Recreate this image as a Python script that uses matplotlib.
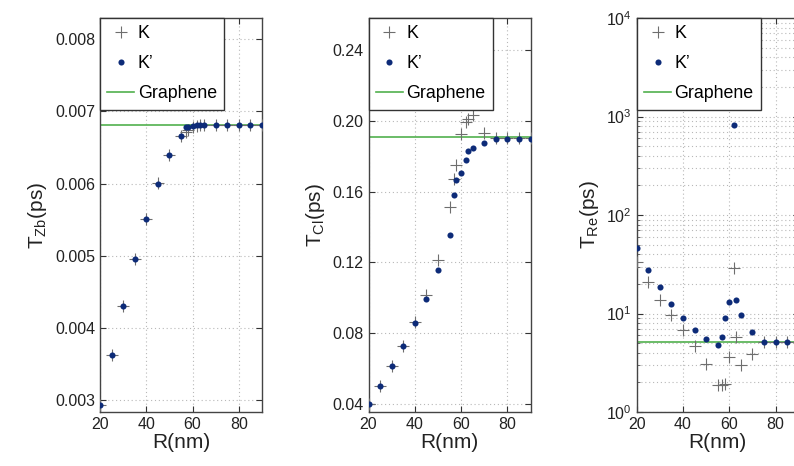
import matplotlib
matplotlib.use("Agg")
import matplotlib.pyplot as plt
from matplotlib.ticker import LogLocator, NullFormatter

plt.rcParams['font.family'] = ['Liberation Sans', 'DejaVu Sans']
plt.rcParams['mathtext.fontset'] = 'custom'
plt.rcParams['mathtext.rm'] = 'Liberation Sans'
plt.rcParams['mathtext.it'] = 'Liberation Sans:italic'
plt.rcParams['mathtext.bf'] = 'Liberation Sans:bold'

# ---------------- data ----------------
R = [20, 25, 30, 35, 40, 45, 50, 55, 57, 58, 60, 62, 63, 65, 70, 75, 80, 85, 90]

zb_K = [0.00293, 0.00363, 0.00431, 0.00496, 0.00551, 0.00601, 0.00639, 0.00666,
        0.00671, 0.00674, 0.00678, 0.00680, 0.00681, 0.00681, 0.00681, 0.00681,
        0.00681, 0.00681, 0.00681]
zb_Kp = [0.00293, 0.00363, 0.00431, 0.00496, 0.00551, 0.00600, 0.00639, 0.00666,
         0.00678, 0.00679, 0.00680, 0.00681, 0.00681, 0.00681, 0.00681, 0.00681,
         0.00681, 0.00681, 0.00681]
zb_graphene = 0.00681

cl_K = [0.040, 0.0503, 0.0617, 0.0730, 0.0866, 0.1016, 0.1214, 0.1515, 0.1670,
        0.1750, 0.1924, 0.1990, 0.2010, 0.2033, 0.1933, 0.1905, 0.1900, 0.1900, 0.1900]
cl_Kp = [0.040, 0.0503, 0.0617, 0.0730, 0.0856, 0.0993, 0.1157, 0.1355, 0.1580,
         0.1666, 0.1707, 0.1777, 0.1830, 0.1848, 0.1875, 0.1897, 0.1898, 0.1898, 0.1898]
cl_graphene = 0.1909

re_K = [33.6, 20.9, 13.8, 9.6, 6.8, 4.68, 3.05, 1.89, 1.89, 1.92, 3.62, 28.8,
        5.77, 3.0, 3.91, 5.14, 5.14, 5.14, 5.14]
re_Kp = [46.5, 27.7, 18.6, 12.6, 9.06, 6.85, 5.55, 4.82, 5.77, 9.06, 13.1, 820,
         13.8, 9.57, 6.49, 5.14, 5.14, 5.14, 5.14]
re_graphene = 5.15

xticks = [20, 40, 60, 80]
zb_yticks = [0.003, 0.004, 0.005, 0.006, 0.007, 0.008]
zb_yticklabels = ['0.003', '0.004', '0.005', '0.006', '0.007', '0.008']
cl_yticks = [0.04, 0.08, 0.12, 0.16, 0.20, 0.24]
cl_yticklabels = ['0.04', '0.08', '0.12', '0.16', '0.20', '0.24']

ylabels = [r'T$_{\mathrm{Zb}}$(ps)', r'T$_{\mathrm{Cl}}$(ps)', r'T$_{\mathrm{Re}}$(ps)']
xlabel = 'R(nm)'
legend_labels = ['K', "K\u2019", 'Graphene']

# ---------------- style ----------------
W, H = 794, 466
fig = plt.figure(figsize=(W / 100, H / 100), dpi=100)

bottom = (H - 412) / H
height = (412 - 18) / H
lefts = [100, 368.5, 636.7]
width = 162 / W

K_color = '#6e6e6e'
Kp_color = '#0d2b78'
g_color = '#52b04e'
grid_kw = dict(color='#b8b8b8', linestyle=(0, (1, 2.5)), linewidth=0.8)

panels = [
    (zb_K, zb_Kp, zb_graphene, False),
    (cl_K, cl_Kp, cl_graphene, False),
    (re_K, re_Kp, re_graphene, True),
]

axes = []
for i, (yK, yKp, yg, logy) in enumerate(panels):
    ax = fig.add_axes([lefts[i] / W, bottom, width, height])
    axes.append(ax)
    ax.plot(R, yK, linestyle='none', marker='+', color=K_color,
            markersize=8, markeredgewidth=0.8, label=legend_labels[0], zorder=3)
    ax.plot(R, yKp, linestyle='none', marker='o', color=Kp_color,
            markersize=4.4, markeredgewidth=0, label=legend_labels[1], zorder=4)
    ax.axhline(yg, color=g_color, linewidth=1.2, label=legend_labels[2], zorder=2)
    ax.set_xlim(20, 90)
    ax.set_xticks(xticks)
    ax.set_xticklabels([str(t) for t in xticks])
    if logy:
        ax.set_yscale('log')
        ax.set_ylim(1, 1e4)
        ax.yaxis.set_major_locator(LogLocator(base=10, numticks=10))
        ax.yaxis.set_minor_locator(LogLocator(base=10, subs=range(2, 10), numticks=50))
        ax.yaxis.set_minor_formatter(NullFormatter())
        ax.grid(True, which='both', **grid_kw)
    else:
        ax.grid(True, which='major', **grid_kw)
    ax.set_axisbelow(True)
    ax.tick_params(direction='in', labelsize=11.5, length=4, width=0.8,
                   top=True, right=True, colors='#333333', labelcolor='#222222')
    ax.tick_params(which='minor', direction='in', length=2, width=0.6,
                   right=True, colors='#555555')
    for s in ax.spines.values():
        s.set_color('#444444')
        s.set_linewidth(1.0)
    ax.set_xlabel(xlabel, fontsize=15, labelpad=1, color='#222222')
    ax.set_ylabel(ylabels[i], fontsize=15, labelpad=4, color='#222222')
    leg = ax.legend(loc='upper left', fontsize=12.8, frameon=True, fancybox=False,
                    borderaxespad=0.0, borderpad=0.42, labelspacing=0.72,
                    handlelength=1.5, handletextpad=0.2, numpoints=1)
    leg.get_frame().set_edgecolor('#333333')
    leg.get_frame().set_linewidth(1.0)
    leg.get_frame().set_alpha(1.0)

axes[0].set_ylim(0.002834, 0.008295)
axes[0].set_yticks(zb_yticks)
axes[0].set_yticklabels(zb_yticklabels)
axes[1].set_ylim(0.0355, 0.258)
axes[1].set_yticks(cl_yticks)
axes[1].set_yticklabels(cl_yticklabels)

fig.savefig('out.png', dpi=100)
